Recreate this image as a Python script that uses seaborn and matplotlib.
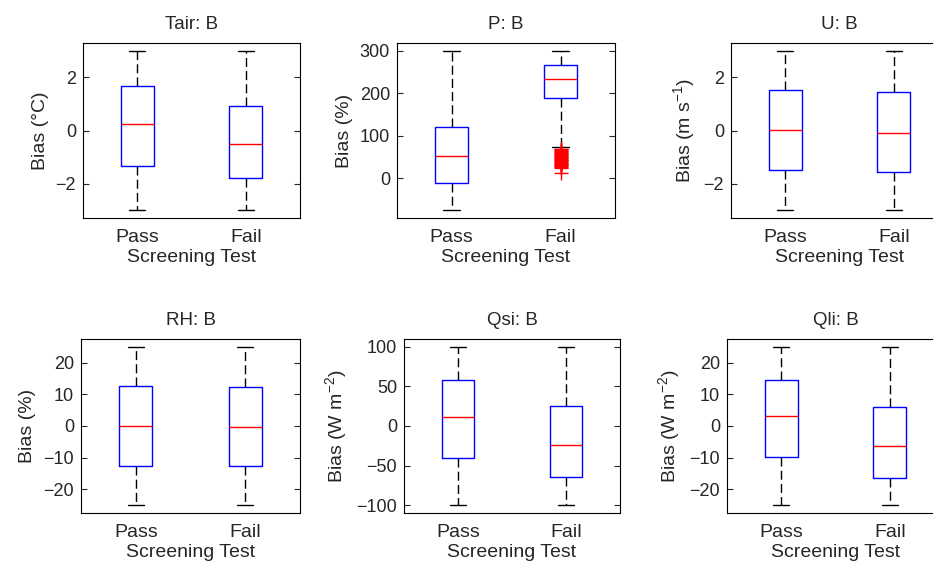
import numpy as np
import pandas as pd
import matplotlib
matplotlib.use('Agg')
import matplotlib.pyplot as plt
import seaborn as sns

sns.set_style('white')
plt.rcParams['font.family'] = ['Liberation Sans', 'DejaVu Sans']
plt.rcParams['mathtext.fontset'] = 'custom'
plt.rcParams['mathtext.rm'] = 'Liberation Sans'
plt.rcParams['mathtext.it'] = 'Liberation Sans:italic'
plt.rcParams['axes.linewidth'] = 0.8

groups = ['Pass', 'Fail']

# lower whisker, q1, median, q3, upper whisker
tair_pass = [-3, -1.34, 0.24, 1.68, 3]
tair_fail = [-3, -1.81, -0.52, 0.94, 3]
p_pass = [-75, -11, 53, 121, 300]
p_fail = [73, 189, 233, 268, 300]
u_pass = [-3, -1.49, 0.02, 1.51, 3]
u_fail = [-3, -1.57, -0.08, 1.47, 3]
rh_pass = [-25, -12.6, 0, 12.6, 25]
rh_fail = [-25, -12.8, -0.2, 12.4, 25]
qsi_pass = [-100, -40, 12, 58.5, 100]
qsi_fail = [-100, -65, -24.5, 25, 100]
qli_pass = [-25, -9.8, 3.2, 14.6, 25]
qli_fail = [-25, -16.4, -6.3, 6.1, 25]

# outliers of P, Fail group
p_fail_out = [70, 68, 66, 64, 62, 60, 58, 56, 55, 53, 51, 49, 47, 45, 44, 42,
              40, 38, 36, 34, 33, 31, 29, 27, 25, 12]

titles = ['Tair: B', 'P: B', 'U: B', 'RH: B', 'Qsi: B', 'Qli: B']
ylabels = ['Bias (°C)', 'Bias (%)', r'Bias (m s$^{-1}$)',
           'Bias (%)', r'Bias (W m$^{-2}$)', r'Bias (W m$^{-2}$)']
yticks = [[-2, 0, 2], [0, 100, 200, 300], [-2, 0, 2],
          [-20, -10, 0, 10, 20], [-100, -50, 0, 50, 100], [-20, -10, 0, 10, 20]]
panels = [(tair_pass, tair_fail), (p_pass, p_fail), (u_pass, u_fail),
          (rh_pass, rh_fail), (qsi_pass, qsi_fail), (qli_pass, qli_fail)]

W, H = 933, 568
# axes boxes in pixels: left, top, right, bottom
boxes = [(83, 43, 300, 218), (397, 43, 615, 218), (731, 43, 948, 218),
         (81, 339, 300, 513), (404, 339, 620, 513), (727, 339, 944, 513)]

fig = plt.figure(figsize=(W / 100, H / 100), dpi=100)

for i in range(6):
    l, t, r, b = boxes[i]
    ax = fig.add_axes([l / W, 1 - b / H, (r - l) / W, (b - t) / H])
    a, f = panels[i]
    df = pd.DataFrame({'Screening Test': ['Pass'] * len(a) + ['Fail'] * len(f),
                       'Bias': a + f})
    sns.boxplot(data=df, x='Screening Test', y='Bias', order=groups, ax=ax,
                width=0.3, fill=False, whis=(0, 100), showfliers=False,
                boxprops={'color': 'blue', 'linewidth': 1},
                medianprops={'color': 'red', 'linewidth': 1},
                whiskerprops={'color': 'black', 'linewidth': 1, 'linestyle': (0, (6.5, 3))},
                capprops={'color': 'black', 'linewidth': 1})
    if i == 1:
        sns.stripplot(x=['Fail'] * len(p_fail_out), y=p_fail_out, order=groups,
                      jitter=False, marker='+', color='red', size=10,
                      linewidth=1, edgecolor='red', ax=ax)
    lo = min(a + f)
    hi = max(a + f)
    pad = 0.05 * (hi - lo)
    ax.set_ylim(lo - pad, hi + pad)
    ax.set_xlim(-0.5, 1.5)
    ax.set_yticks(yticks[i])
    ax.tick_params(axis='y', direction='in', left=True, right=True, length=4,
                   width=0.8, labelsize=13, pad=5)
    ax.tick_params(axis='x', length=0, labelsize=14, pad=8)
    ax.set_title(titles[i], fontsize=13.5, pad=10)
    ax.set_xlabel('Screening Test', fontsize=14, labelpad=2)
    ax.set_ylabel(ylabels[i], fontsize=14, labelpad=5)
    for s in ax.spines.values():
        s.set_color('black')
        s.set_linewidth(0.8)

plt.savefig('out.png', dpi=100)
